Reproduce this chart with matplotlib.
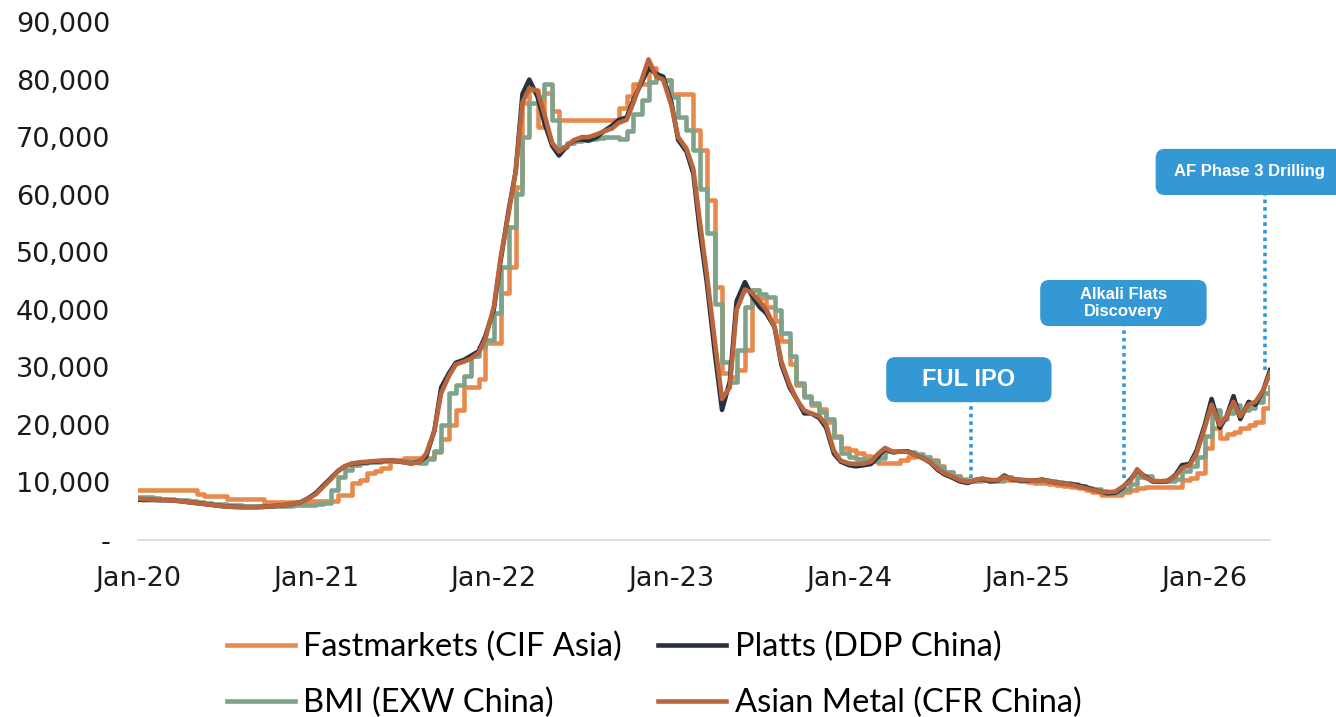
import pandas as pd
import matplotlib.pyplot as plt
import matplotlib.dates as mdates
from matplotlib.patches import FancyBboxPatch
from matplotlib.ticker import FuncFormatter

# semi-monthly price points (USD/t), Jan-2020 .. May-2026
dates = pd.date_range('2020-01-01', periods=154, freq='SMS')

fastmarkets = [
    8600, 8600, 8600, 8600, 8600, 8600, 8600, 8600, 8000, 7650, 7650, 7650, 7200, 7200, 7200, 7200, 7200, 6600, 6600, 6600, 6600, 6600, 6600, 6800,
    6800, 6800, 6800, 7800, 7800, 9900, 10400, 11600, 12000, 12500, 13900, 13900, 14200, 14200, 14200, 14200, 15300, 17500, 20000, 22500, 26600, 26600, 28000, 34200,
    34200, 42900, 47400, 61300, 75900, 78100, 71700, 77600, 74600, 72900, 72900, 72900, 72900, 72900, 72900, 72900, 72900, 75000, 77200, 79300, 79300, 82000, 80500, 79900,
    77500, 77500, 77500, 71200, 67700, 59000, 44000, 29000, 28300, 29500, 33000, 43400, 42000, 40500, 38000, 34500, 30500, 27000, 24800, 23500, 22800, 20500, 18000, 15900,
    15600, 15100, 14600, 14400, 13300, 13300, 13300, 13900, 14400, 14800, 14400, 13900, 12800, 11800, 11100, 10600, 10300, 10300, 10500, 10300, 10200, 10500, 10400, 10200,
    10000, 9900, 9900, 9800, 9600, 9400, 9200, 9000, 8700, 8300, 7900, 7800, 7800, 8300, 8700, 9000, 9200, 9200, 9200, 9200, 9200, 10400, 10800, 11600,
    16000, 19500, 17700, 18500, 18800, 19500, 20000, 20500, 23000, 25500]

platts = [
    7000, 6950, 6950, 6900, 6900, 6850, 6700, 6550, 6400, 6250, 6100, 5950, 5800, 5750, 5700, 5700, 5700, 5750, 5850, 5950, 6100, 6300, 6600, 7200,
    8200, 9400, 10800, 12000, 12800, 13200, 13400, 13500, 13600, 13700, 13800, 13700, 13500, 13300, 13600, 14500, 19000, 26500, 29000, 30800, 31300, 32000, 32800, 35500,
    40000, 48500, 57500, 64000, 77500, 80000, 77000, 72500, 68500, 66800, 68500, 69400, 69600, 69400, 70000, 71000, 72000, 73000, 73400, 76500, 79500, 82000, 81000, 80500,
    76000, 69500, 67500, 63700, 53300, 44600, 32000, 22600, 27500, 41500, 44800, 42500, 40500, 39400, 37000, 30500, 26500, 24500, 22000, 22000, 21200, 19500, 15000, 13600,
    13000, 12800, 13000, 13200, 14500, 15800, 15200, 15400, 15400, 14800, 14200, 13500, 12200, 11400, 10800, 10200, 9900, 10400, 10600, 10200, 10300, 11200, 10500, 10400,
    10300, 10300, 10500, 10200, 10000, 9800, 9700, 9500, 9200, 8800, 8400, 8100, 8200, 9000, 10500, 12000, 11000, 10200, 10100, 10200, 11200, 13000, 13200, 15500,
    20000, 24500, 19500, 21500, 25000, 21000, 24000, 23500, 26000, 29500]

bmi = [
    7500, 7400, 7300, 7200, 7100, 7000, 6900, 6800, 6600, 6500, 6300, 6200, 6100, 6000, 5900, 5900, 5900, 5900, 5900, 5900, 5900, 6000, 6000, 6100,
    6300, 6500, 8700, 11000, 12100, 13000, 13300, 13500, 13600, 13700, 13700, 13700, 13700, 13500, 13400, 14000, 15500, 20000, 25500, 27000, 28500, 32000, 33500, 34700,
    39400, 47400, 54300, 60200, 70000, 75900, 77000, 79300, 73000, 68200, 69000, 69400, 69500, 69600, 69800, 70000, 70000, 69700, 71000, 74000, 76400, 79500, 80500, 80000,
    77000, 73500, 71200, 67700, 61000, 53300, 41000, 31000, 27500, 33000, 40500, 43400, 42800, 42200, 40000, 36000, 32000, 27300, 25000, 23800, 22300, 21000, 17900, 15100,
    14400, 14000, 13900, 13800, 14300, 15500, 15400, 15500, 15300, 15000, 14400, 13800, 12600, 11800, 11100, 10500, 10200, 10400, 10600, 10400, 10400, 10900, 10600, 10500,
    10400, 10300, 10400, 10300, 10100, 9900, 9700, 9400, 9100, 8800, 8500, 8300, 8300, 8800, 9800, 11000, 11200, 10300, 10200, 10200, 10600, 12000, 12800, 14500,
    18000, 22500, 21000, 22000, 23500, 22500, 23000, 24000, 25500, 26500]

asian_metal = [
    7200, 7100, 7000, 7000, 6950, 6850, 6700, 6550, 6400, 6250, 6100, 5950, 5800, 5750, 5700, 5700, 5700, 5750, 5850, 5950, 6100, 6300, 6600, 7100,
    8000, 9200, 10600, 12000, 12800, 13300, 13500, 13600, 13700, 13800, 13800, 13700, 13500, 13300, 13500, 15000, 19000, 25500, 28500, 30500, 31000, 31500, 32500, 35000,
    40500, 49000, 57000, 64000, 76000, 78500, 78000, 74000, 69000, 67500, 68500, 69500, 70000, 70000, 70500, 71000, 71500, 72500, 73000, 76000, 80000, 83500, 80500, 80000,
    75500, 70000, 68000, 64500, 55000, 46000, 34000, 24500, 26500, 40000, 43500, 43000, 41500, 40000, 37000, 31000, 27000, 24500, 22500, 22000, 21500, 20000, 15500, 13800,
    13300, 13200, 13300, 13600, 15000, 16000, 15300, 15400, 15300, 14800, 14200, 13600, 12400, 11600, 11000, 10400, 10100, 10400, 10700, 10400, 10400, 11000, 10600, 10500,
    10400, 10300, 10400, 10200, 10000, 9800, 9600, 9300, 9000, 8700, 8400, 8300, 8400, 9200, 10200, 12300, 10800, 10300, 10200, 10300, 11000, 12500, 13000, 15000,
    19500, 23500, 20000, 21500, 24000, 21500, 23500, 24000, 26000, 29000]

event_labels = ['FUL IPO', 'Alkali Flats\nDiscovery', 'AF Phase 3 Drilling']
event_dates = pd.to_datetime(['2024-09-07', '2025-07-20', '2026-05-04'])
event_values = [10800, 10800, 29500]

# layout of the callout boxes (axes fraction): x0, y0, x1, y1, text x, font size
boxes = [(0.661, 0.266, 0.807, 0.353, 0.734, 17),
         (0.797, 0.413, 0.944, 0.502, 0.871, 12),
         (0.899, 0.666, 1.10, 0.755, 0.982, 12)]

fig = plt.figure(figsize=(13.36, 7.17), dpi=100)
ax = fig.add_axes([0.1033, 0.2469, 0.8473, 0.7224])

lw = 3.3
l_fm, = ax.plot(dates, fastmarkets, color='#E8894E', lw=lw, drawstyle='steps-post', label='Fastmarkets (CIF Asia)')
l_bmi, = ax.plot(dates, bmi, color='#7FA38A', lw=lw, drawstyle='steps-post', label='BMI (EXW China)')
l_pl, = ax.plot(dates, platts, color='#26323F', lw=lw, label='Platts (DDP China)')
l_am, = ax.plot(dates, asian_metal, color='#B9663F', lw=lw, label='Asian Metal (CFR China)')

ymax = 90000
ax.set_xlim(dates[0], dates[-1])
ax.set_ylim(0, ymax)
ax.set_yticks(range(0, ymax + 1, 10000))
ax.yaxis.set_major_formatter(FuncFormatter(lambda v, p: '-' if v == 0 else f'{v:,.0f}'))
ax.set_xticks(pd.date_range('2020-01-01', '2026-01-01', freq='YS'))
ax.xaxis.set_major_formatter(mdates.DateFormatter('%b-%y'))
ax.tick_params(length=0, labelsize=19.5, colors='#1a1a1a')
ax.tick_params(axis='y', pad=20)
ax.tick_params(axis='x', pad=19)
for s in ['top', 'right', 'left']:
    ax.spines[s].set_visible(False)
ax.spines['bottom'].set_color('#D9D9D9')
ax.spines['bottom'].set_linewidth(1.2)

blue = '#3498D5'
for (x0, y0, x1, y1, tx, fs), lab, d, v in zip(boxes, event_labels, event_dates, event_values):
    # dotted leader from the price line up to the callout
    ax.plot([d, d], [v, y0 * ymax], color=blue, lw=2.6, linestyle=(0, (1, 1.1)),
            solid_capstyle='butt', dash_capstyle='butt', zorder=4)
    patch = FancyBboxPatch((x0, y0), x1 - x0, y1 - y0, transform=ax.transAxes,
                           boxstyle='round,pad=0,rounding_size=0.008', mutation_aspect=1132 / 518,
                           facecolor=blue, edgecolor='none', clip_on=False, zorder=5)
    ax.add_patch(patch)
    ax.text(tx, (y0 + y1) / 2, lab, transform=ax.transAxes, ha='center', va='center',
            color='white', fontsize=fs, fontweight='bold', linespacing=1.15,
            family=['Liberation Sans Narrow', 'Liberation Sans'], zorder=6)

fig.legend([l_fm, l_bmi, l_pl, l_am],
           [l.get_label() for l in [l_fm, l_bmi, l_pl, l_am]],
           ncol=2, loc='center', bbox_to_anchor=(0.4895, 0.0585), frameon=False,
           prop={'family': 'Lato', 'size': 23.5}, handlelength=2.1, handletextpad=0.25,
           columnspacing=1.1, labelspacing=0.8)

plt.savefig('out.png', dpi=100)
